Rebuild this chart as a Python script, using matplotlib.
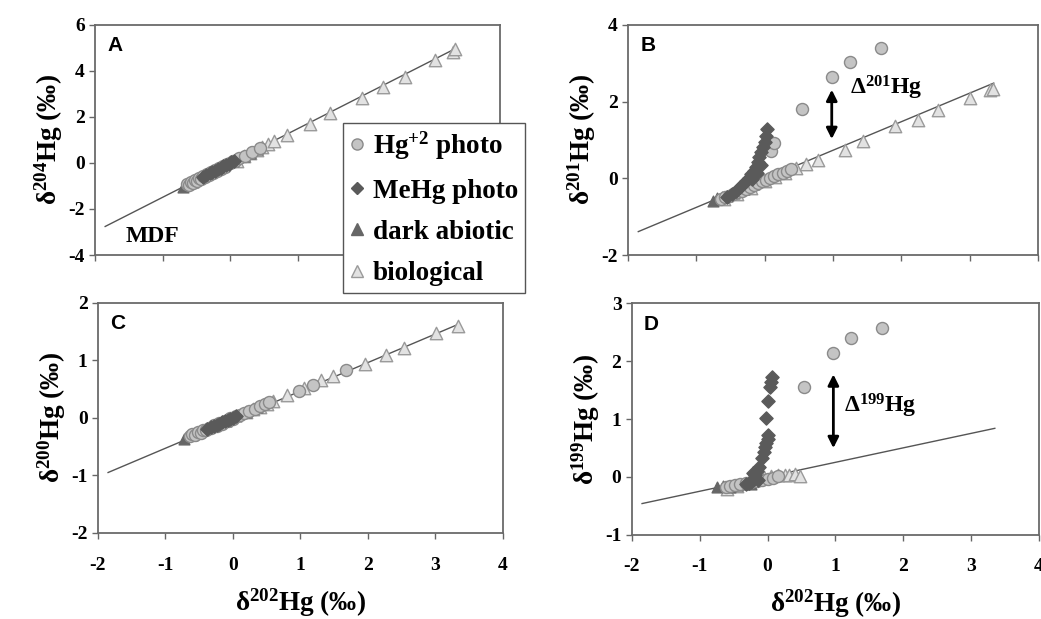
import numpy as np
import matplotlib
matplotlib.use("Agg")
from matplotlib import pyplot as plt
from matplotlib.lines import Line2D

plt.rcParams['font.family'] = ['Liberation Serif', 'DejaVu Serif']
plt.rcParams['font.weight'] = 'bold'
plt.rcParams['axes.labelweight'] = 'bold'
plt.rcParams['mathtext.fontset'] = 'custom'
plt.rcParams['mathtext.rm'] = 'Liberation Serif:bold'
plt.rcParams['mathtext.bf'] = 'Liberation Serif:bold'
plt.rcParams['mathtext.it'] = 'Liberation Serif:bold'
plt.rcParams['axes.unicode_minus'] = False

# ---- data (x = d202Hg) ----
# panel A: d204Hg
a_hg_x = [-0.64, -0.61, -0.58, -0.55, -0.52, -0.49, -0.46, -0.43, -0.40, -0.37, -0.34, -0.31, -0.28, -0.25,
          -0.22, -0.19, -0.16, -0.13, -0.10, -0.07, -0.04, 0.0, 0.04, 0.08, 0.14, 0.22, 0.32, 0.45]
a_hg_y = [-0.90, -0.94, -0.83, -0.88, -0.74, -0.80, -0.66, -0.71, -0.57, -0.63, -0.48, -0.54, -0.40, -0.45,
          -0.30, -0.36, -0.22, -0.27, -0.13, -0.18, -0.04, -0.02, 0.08, 0.10, 0.21, 0.31, 0.48, 0.66]
a_me_x = [-0.40, -0.35, -0.30, -0.26, -0.22, -0.18, -0.14, -0.10, -0.06, -0.02, 0.02, 0.06]
a_me_y = [-0.62, -0.52, -0.45, -0.38, -0.33, -0.26, -0.20, -0.15, -0.09, -0.03, 0.03, 0.09]
a_dk_x = [-0.70, -0.55, -0.10, 0.05, 0.20, 0.30, 0.40]
a_dk_y = [-1.04, -0.82, -0.15, 0.07, 0.30, 0.45, 0.60]
a_bio_x = [0.10, 0.20, 0.30, 0.40, 0.48, 0.56, 0.65, 0.84, 1.19, 1.48, 1.95, 2.27, 2.59, 3.04, 3.31, 3.33]
a_bio_y = [0.10, 0.28, 0.42, 0.57, 0.70, 0.80, 0.95, 1.20, 1.70, 2.15, 2.80, 3.30, 3.75, 4.45, 4.80, 4.95]

# panel B: d201Hg
b_hg_x = [-0.64, -0.58, -0.52, -0.46, -0.40, -0.34, -0.28, -0.22, -0.16, -0.10, -0.04, 0.02, 0.08, 0.14,
          0.20, 0.26, 0.32, 0.38, 0.09, 0.14, 0.54, 0.98, 1.25, 1.70]
b_hg_y = [-0.55, -0.50, -0.46, -0.41, -0.37, -0.32, -0.27, -0.23, -0.18, -0.13, -0.08, -0.04, 0.01, 0.05,
          0.10, 0.14, 0.19, 0.24, 0.72, 0.92, 1.80, 2.65, 3.02, 3.40]
b_me_x = [-0.55, -0.48, -0.42, -0.36, -0.32, -0.27, -0.23, -0.20, -0.16, -0.13, -0.10, -0.08, -0.05, -0.03,
          0.0, 0.02, 0.04, -0.06, -0.12, -0.18]
b_me_y = [-0.48, -0.40, -0.32, -0.24, -0.16, -0.08, 0.0, 0.10, 0.20, 0.30, 0.42, 0.55, 0.68, 0.82,
          0.95, 1.10, 1.28, 0.35, 0.15, -0.02]
b_dk_x = [-0.75, -0.70, -0.62, -0.55, -0.45, -0.30, -0.15]
b_dk_y = [-0.58, -0.52, -0.50, -0.45, -0.38, -0.28, -0.16]
b_bio_x = [-0.60, -0.40, -0.20, 0.0, 0.15, 0.30, 0.45, 0.60, 0.78, 1.17, 1.44, 1.90, 2.24, 2.54, 3.00, 3.29, 3.34]
b_bio_y = [-0.55, -0.40, -0.25, -0.08, 0.04, 0.15, 0.27, 0.38, 0.48, 0.74, 0.96, 1.35, 1.52, 1.78, 2.09, 2.30, 2.32]

# panel C: d200Hg
c_hg_x = [-0.64, -0.60, -0.56, -0.52, -0.48, -0.44, -0.40, -0.36, -0.32, -0.28, -0.24, -0.20, -0.16, -0.12,
          -0.08, -0.04, 0.0, 0.04, 0.10, 0.16, 0.24, 0.32, 0.40, 0.48, 0.54, 0.98, 1.19, 1.68]
c_hg_y = [-0.31, -0.28, -0.29, -0.25, -0.26, -0.21, -0.22, -0.17, -0.18, -0.13, -0.14, -0.09, -0.10, -0.05,
          -0.06, -0.01, -0.02, 0.03, 0.05, 0.09, 0.12, 0.16, 0.20, 0.24, 0.27, 0.46, 0.57, 0.83]
c_me_x = [-0.38, -0.33, -0.28, -0.24, -0.20, -0.16, -0.12, -0.08, -0.04, 0.0, 0.05]
c_me_y = [-0.19, -0.16, -0.14, -0.12, -0.10, -0.08, -0.06, -0.04, -0.02, 0.0, 0.03]
c_dk_x = [-0.72, -0.60, -0.10, 0.05, 0.20, 0.35]
c_dk_y = [-0.36, -0.30, -0.05, 0.03, 0.10, 0.18]
c_bio_x = [0.20, 0.30, 0.40, 0.50, 0.60, 0.80, 1.05, 1.30, 1.48, 1.95, 2.27, 2.54, 3.01, 3.33]
c_bio_y = [0.10, 0.15, 0.19, 0.24, 0.30, 0.39, 0.52, 0.65, 0.73, 0.93, 1.10, 1.22, 1.48, 1.60]

# panel D: d199Hg
d_hg_x = [-0.62, -0.55, -0.48, -0.40, -0.32, -0.24, -0.16, -0.08, 0.0, 0.08, 0.16, 0.54, 0.96, 1.23, 1.69]
d_hg_y = [-0.17, -0.15, -0.14, -0.12, -0.10, -0.09, -0.07, -0.05, -0.03, -0.01, 0.01, 1.55, 2.15, 2.40, 2.57]
d_me_x = [0.07, 0.05, 0.03, 0.0, -0.02, 0.0, 0.01, -0.03, -0.04, -0.05, -0.08, -0.12, -0.15, -0.18,
          -0.20, -0.24, -0.28, -0.32, -0.22, -0.14]
d_me_y = [1.72, 1.64, 1.56, 1.31, 1.02, 0.72, 0.65, 0.58, 0.52, 0.43, 0.33, 0.18, 0.10, 0.03,
          -0.04, -0.08, -0.11, -0.13, 0.06, -0.05]
d_dk_x = [-0.75, -0.65, -0.55, -0.45, -0.35, -0.25]
d_dk_y = [-0.18, -0.16, -0.17, -0.14, -0.13, -0.12]
d_bio_x = [-0.60, -0.45, -0.05, 0.05, 0.15, 0.25, 0.32, 0.40, 0.48]
d_bio_y = [-0.20, -0.15, 0.0, 0.02, 0.03, 0.04, 0.03, 0.05, 0.01]

# MDF reference lines (end points)
mdf_x = [-1.85, 3.35]
mdf_a = [-2.76, 4.98]
mdf_b = [-1.39, 2.48]
mdf_c = [-0.95, 1.63]
mdf_d = [-0.46, 0.84]

labels = ["Hg$^{+2}$ photo", "MeHg photo", "dark abiotic", "biological"]

hg_style = dict(marker='o', s=75, facecolor='#c4c4c4', edgecolor='#8a8a8a', linewidths=1.0)
me_style = dict(marker='D', s=45, facecolor='#5a5a5a', edgecolor='#5a5a5a')
dk_style = dict(marker='^', s=60, facecolor='#666666', edgecolor='#666666')
bio_style = dict(marker='^', s=80, facecolor='#e2e2e2', edgecolor='#9a9a9a', linewidths=1.0)

fig = plt.figure(figsize=(10.41, 6.19), dpi=100)
axA = fig.add_axes([0.0913, 0.588, 0.389, 0.372])
axB = fig.add_axes([0.6033, 0.588, 0.394, 0.372])
axC = fig.add_axes([0.0941, 0.139, 0.389, 0.372])
axD = fig.add_axes([0.607, 0.136, 0.391, 0.374])

panels = [
    (axA, a_hg_x, a_hg_y, a_me_x, a_me_y, a_dk_x, a_dk_y, a_bio_x, a_bio_y, mdf_a, (-4, 6), [-4, -2, 0, 2, 4, 6], "A", "204"),
    (axB, b_hg_x, b_hg_y, b_me_x, b_me_y, b_dk_x, b_dk_y, b_bio_x, b_bio_y, mdf_b, (-2, 4), [-2, 0, 2, 4], "B", "201"),
    (axC, c_hg_x, c_hg_y, c_me_x, c_me_y, c_dk_x, c_dk_y, c_bio_x, c_bio_y, mdf_c, (-2, 2), [-2, -1, 0, 1, 2], "C", "200"),
    (axD, d_hg_x, d_hg_y, d_me_x, d_me_y, d_dk_x, d_dk_y, d_bio_x, d_bio_y, mdf_d, (-1, 3), [-1, 0, 1, 2, 3], "D", "199"),
]

for ax, hx, hy, mx, my, kx, ky, bx, by, mdf, ylim, yt, letter, iso in panels:
    ax.plot(mdf_x, mdf, color='#555555', lw=1.0, zorder=1)
    ax.scatter(bx, by, zorder=2, **bio_style)
    ax.scatter(kx, ky, zorder=3, **dk_style)
    ax.scatter(hx, hy, zorder=4, **hg_style)
    ax.scatter(mx, my, zorder=5, **me_style)
    ax.set_xlim(-2, 4)
    ax.set_ylim(*ylim)
    ax.set_xticks([-2, -1, 0, 1, 2, 3, 4])
    ax.set_yticks(yt)
    ax.tick_params(direction='out', length=4, width=1, color='#666666', labelsize=14)
    ax.tick_params(axis='x', pad=13)
    for lbl in ax.get_xticklabels() + ax.get_yticklabels():
        lbl.set_fontweight('bold')
    for sp in ax.spines.values():
        sp.set_color('#6a6a6a')
        sp.set_linewidth(1.3)
    ax.set_ylabel("δ$^{" + iso + "}$Hg (‰)", fontsize=19.5, fontweight='bold', labelpad=2)
    ax.text(0.03, 0.95, letter, transform=ax.transAxes, fontsize=15, fontweight='bold',
            family='Liberation Sans', va='top', ha='left')

for ax in (axA, axB):
    ax.tick_params(labelbottom=False)
for ax in (axC, axD):
    ax.set_xlabel("δ$^{202}$Hg (‰)", fontsize=19.5, fontweight='bold', labelpad=9)

axA.text(-1.55, -3.45, "MDF", fontsize=17, fontweight='bold')

axB.annotate("", xy=(0.98, 2.38), xytext=(0.98, 0.95),
             arrowprops=dict(arrowstyle='<|-|>', color='black', lw=2, mutation_scale=16))
axB.text(1.25, 2.35, "Δ$^{201}$Hg", fontsize=17, fontweight='bold', va='center')

axD.annotate("", xy=(0.97, 1.82), xytext=(0.97, 0.45),
             arrowprops=dict(arrowstyle='<|-|>', color='black', lw=2, mutation_scale=16))
axD.text(1.12, 1.22, "Δ$^{199}$Hg", fontsize=17, fontweight='bold', va='center')

handles = [
    Line2D([], [], ls='none', marker='o', markersize=8, markerfacecolor='#c4c4c4', markeredgecolor='#8a8a8a'),
    Line2D([], [], ls='none', marker='D', markersize=6.5, markerfacecolor='#5a5a5a', markeredgecolor='#5a5a5a'),
    Line2D([], [], ls='none', marker='^', markersize=8.5, markerfacecolor='#666666', markeredgecolor='#666666'),
    Line2D([], [], ls='none', marker='^', markersize=8.5, markerfacecolor='#e2e2e2', markeredgecolor='#9a9a9a'),
]
leg = fig.legend(handles, labels, loc='upper left', bbox_to_anchor=(0.3295, 0.8013),
                 prop={'size': 19.5, 'weight': 'bold'}, frameon=True, fancybox=False, handlelength=0.55,
                 handletextpad=0.3, labelspacing=0.6, borderpad=0.25, borderaxespad=0)
leg.get_frame().set_edgecolor('#555555')
leg.get_frame().set_linewidth(1.0)
leg.get_frame().set_alpha(1)

fig.savefig("out.png", dpi=100)
